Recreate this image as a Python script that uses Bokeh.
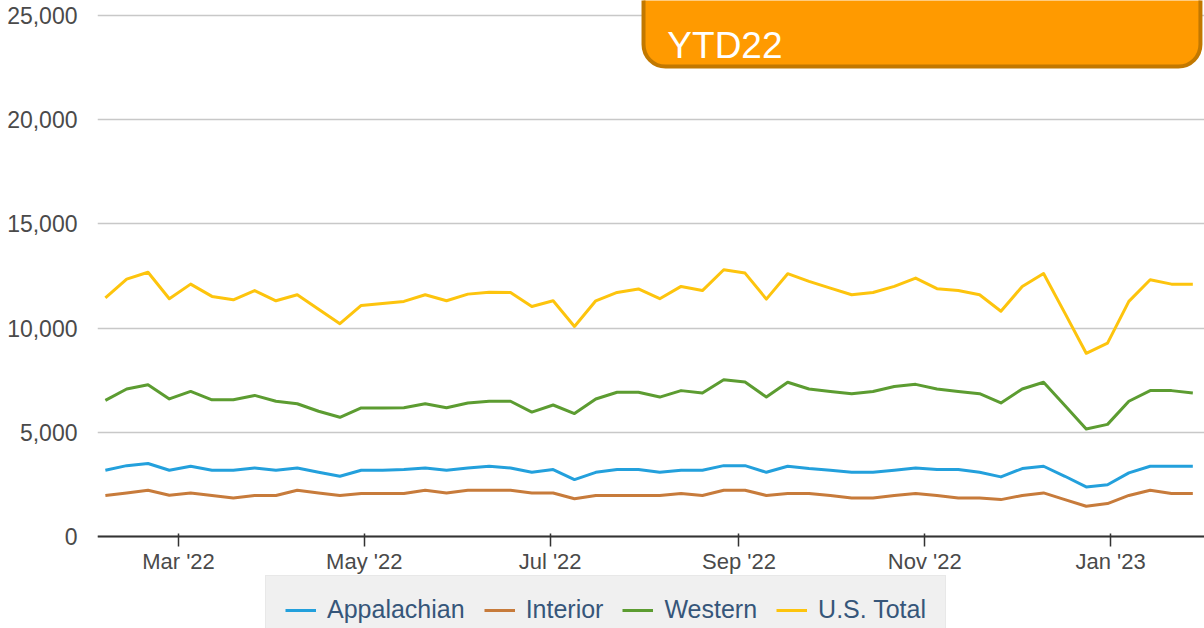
from datetime import datetime
import pandas as pd
from bokeh.plotting import figure
from bokeh.models import (ColumnDataSource, Legend, LegendItem, FixedTicker,
                          DatetimeTickFormatter, NumeralTickFormatter, Range1d,
                          BoxAnnotation, Label)
from bokeh.embed import file_html
from bokeh.resources import INLINE

# ---------------- data ----------------
weeks = [
    "2022-02-05", "2022-02-12", "2022-02-19", "2022-02-26",
    "2022-03-05", "2022-03-12", "2022-03-19", "2022-03-26",
    "2022-04-02", "2022-04-09", "2022-04-16", "2022-04-23", "2022-04-30",
    "2022-05-07", "2022-05-14", "2022-05-21", "2022-05-28",
    "2022-06-04", "2022-06-11", "2022-06-18", "2022-06-25",
    "2022-07-02", "2022-07-09", "2022-07-16", "2022-07-23", "2022-07-30",
    "2022-08-06", "2022-08-13", "2022-08-20", "2022-08-27",
    "2022-09-03", "2022-09-10", "2022-09-17", "2022-09-24",
    "2022-10-01", "2022-10-08", "2022-10-15", "2022-10-22", "2022-10-29",
    "2022-11-05", "2022-11-12", "2022-11-19", "2022-11-26",
    "2022-12-03", "2022-12-10", "2022-12-17", "2022-12-24", "2022-12-31",
    "2023-01-07", "2023-01-14", "2023-01-21", "2023-01-28",
]

us_total = [11450, 12350, 12680, 11410, 12110, 11520, 11360, 11800, 11310, 11600,
            10900, 10210, 11090, 11180, 11280, 11600, 11310, 11630, 11720, 11710,
            11040, 11310, 10080, 11310, 11710, 11880, 11410, 12000, 11800, 12800,
            12640, 11390, 12610, 12240, 11920, 11600, 11710, 12000, 12400, 11890,
            11800, 11600, 10810, 12000, 12620, 10720, 8790, 9280, 11280, 12320,
            12110, 12110]

western = [6530, 7080, 7280, 6600, 6960, 6560, 6560, 6770, 6490, 6370,
           6010, 5720, 6170, 6170, 6180, 6370, 6180, 6410, 6490, 6490,
           5970, 6310, 5900, 6600, 6920, 6920, 6690, 7000, 6890, 7520,
           7410, 6690, 7400, 7080, 6960, 6850, 6960, 7200, 7300, 7080,
           6960, 6850, 6410, 7080, 7400, 6290, 5160, 5380, 6490, 7000,
           7000, 6890]

appalachian = [3180, 3400, 3500, 3180, 3370, 3180, 3180, 3290, 3180, 3290,
               3080, 2890, 3180, 3180, 3210, 3290, 3180, 3290, 3370, 3290,
               3080, 3210, 2730, 3080, 3210, 3210, 3080, 3180, 3180, 3400,
               3400, 3080, 3370, 3260, 3180, 3080, 3080, 3180, 3290, 3210,
               3210, 3080, 2860, 3260, 3370, 2890, 2380, 2480, 3050, 3370,
               3370, 3370]

interior = [1970, 2090, 2220, 1980, 2090, 1970, 1850, 1970, 1970, 2220,
            2090, 1970, 2060, 2060, 2060, 2220, 2090, 2220, 2220, 2220,
            2090, 2090, 1810, 1970, 1970, 1970, 1970, 2060, 1970, 2220,
            2220, 1970, 2060, 2060, 1970, 1850, 1850, 1970, 2060, 1970,
            1850, 1850, 1770, 1970, 2090, 1770, 1450, 1580, 1970, 2220,
            2060, 2060]

series_names = ["Appalachian", "Interior", "Western", "U.S. Total"]
series_values = [appalachian, interior, western, us_total]
series_colors = ["#23a0dc", "#c77b3b", "#5c9c31", "#fdc40d"]

x_tick_dates = ["2022-03-01", "2022-05-01", "2022-07-01", "2022-09-01",
                "2022-11-01", "2023-01-01"]
y_ticks = [0, 5000, 10000, 15000, 20000, 25000]

callout_text = "YTD22"

# ---------------- figure ----------------
def ms(s):
    return pd.Timestamp(s).value / 1e6

x_start = ms("2022-02-02 10:00")
x_end = ms("2023-01-31 20:00")

p = figure(width=1204, height=628, x_axis_type="datetime",
           x_range=Range1d(x_start, x_end), y_range=Range1d(-4415, 25720),
           output_backend="svg", toolbar_location=None,
           min_border_left=97, min_border_right=0, min_border_top=0,
           min_border_bottom=0)
p.outline_line_color = None
p.background_fill_color = "white"
p.border_fill_color = "white"

x = [pd.Timestamp(d) for d in weeks]
renderers = []
for name, vals, col in zip(series_names, series_values, series_colors):
    src = ColumnDataSource(dict(x=x, y=vals))
    r = p.line("x", "y", source=src, line_color=col, line_width=3,
               line_join="round")
    renderers.append(r)

label_color = "#4a4a4a"

# axes
p.xgrid.grid_line_color = None
p.ygrid.grid_line_color = "#c8c8c8"
p.ygrid.grid_line_width = 1.5
p.yaxis.ticker = FixedTicker(ticks=y_ticks)
p.yaxis.formatter = NumeralTickFormatter(format="0,0")
p.yaxis.axis_line_color = None
p.yaxis.major_tick_line_color = None
p.yaxis.minor_tick_line_color = None
p.yaxis.major_label_text_font = "Liberation Sans"
p.yaxis.major_label_text_font_size = "23px"
p.yaxis.major_label_text_color = label_color
p.yaxis.major_label_standoff = 14

xa = p.xaxis[0]
xa.fixed_location = 0
xa.ticker = FixedTicker(ticks=[ms(d) for d in x_tick_dates])
xa.formatter = DatetimeTickFormatter(months="%b '%y", days="%b '%y")
xa.axis_line_color = "#333333"
xa.axis_line_width = 2
xa.major_tick_line_color = "#333333"
xa.major_tick_line_width = 1.5
xa.major_tick_out = 10
xa.major_tick_in = 3
xa.minor_tick_line_color = None
xa.major_label_text_font = "Liberation Sans"
xa.major_label_text_font_size = "22px"
xa.major_label_text_color = label_color
xa.major_label_standoff = 3

# callout box
box = BoxAnnotation(left=ms("2022-07-31 16:00"), right=ms("2023-01-30 12:00"),
                    top=28000, bottom=22550,
                    fill_color="#ff9a00", fill_alpha=1.0,
                    line_color="#c27800", line_alpha=1.0, line_width=4,
                    border_radius=22, level="overlay")
p.add_layout(box)
lbl = Label(x=ms("2022-08-08 12:00"), y=23560, text=callout_text,
            text_color="white", text_font="Liberation Sans",
            text_font_size="37px", text_baseline="alphabetic",
            text_align="left", level="overlay")
p.add_layout(lbl)

# legend
items = [LegendItem(label=n, renderers=[r]) for n, r in zip(series_names, renderers)]
legend = Legend(items=items, orientation="horizontal", location=(168, -16),
                background_fill_color="#f0f0f0", background_fill_alpha=1.0,
                border_line_color="#e0e0e0", border_line_width=1.5,
                label_text_font="Liberation Sans", label_text_font_size="25px",
                label_text_color="#36567a", glyph_width=31, glyph_height=24,
                label_height=24, label_standoff=11, spacing=19, padding=19,
                margin=0)
p.add_layout(legend, "center")

open("out.html", "w").write(file_html(p, INLINE))
